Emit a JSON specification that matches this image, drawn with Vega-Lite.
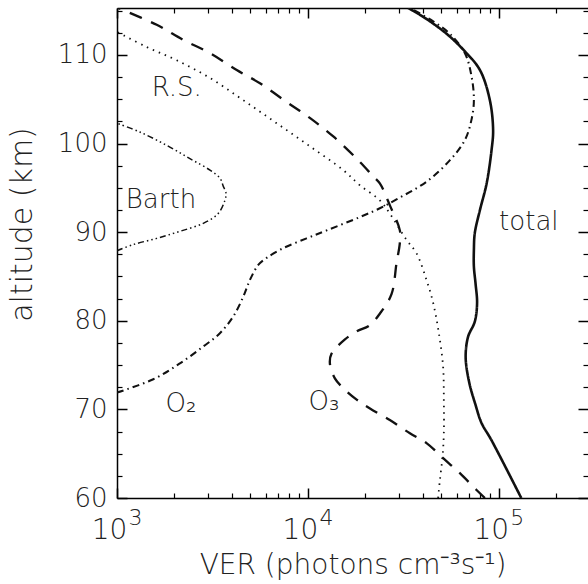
{
  "$schema": "https://vega.github.io/schema/vega-lite/v6.json",
  "autosize": {"type": "none"},
  "padding": {"left": 117, "top": 8, "right": 0, "bottom": 86},
  "width": 471,
  "height": 490,
  "config": {
    "view": {"stroke": null},
    "font": "DejaVu Sans",
    "axis": {"grid": false, "labelColor": "#222", "titleColor": "#222", "labelFontWeight": 200, "titleFontWeight": 200, "domainColor": "#000", "tickColor": "#000", "labelFlush": false, "labelOverlap": false, "labelBound": false}
  },
  "datasets": {
    "curves": [
      {"s": "total", "alt": 60.0, "v": 131000},
      {"s": "total", "alt": 66.5, "v": 91600},
      {"s": "total", "alt": 68.5, "v": 81000},
      {"s": "total", "alt": 70.5, "v": 75500},
      {"s": "total", "alt": 73.0, "v": 70000},
      {"s": "total", "alt": 75.9, "v": 67000},
      {"s": "total", "alt": 78.2, "v": 69000},
      {"s": "total", "alt": 79.9, "v": 74800},
      {"s": "total", "alt": 82.0, "v": 76900},
      {"s": "total", "alt": 84.2, "v": 75500},
      {"s": "total", "alt": 86.1, "v": 74000},
      {"s": "total", "alt": 88.0, "v": 74000},
      {"s": "total", "alt": 89.9, "v": 74800},
      {"s": "total", "alt": 92.5, "v": 79600},
      {"s": "total", "alt": 95.5, "v": 86300},
      {"s": "total", "alt": 99.3, "v": 91600},
      {"s": "total", "alt": 101.5, "v": 93300},
      {"s": "total", "alt": 104.9, "v": 89700},
      {"s": "total", "alt": 108.3, "v": 79600},
      {"s": "total", "alt": 110.4, "v": 66400},
      {"s": "total", "alt": 112.4, "v": 53200},
      {"s": "total", "alt": 114.3, "v": 40200},
      {"s": "total", "alt": 115.3, "v": 33500},

      {"s": "O3", "alt": 60.0, "v": 84500},
      {"s": "O3", "alt": 60.9, "v": 76400},
      {"s": "O3", "alt": 62.8, "v": 62500},
      {"s": "O3", "alt": 64.5, "v": 51050},
      {"s": "O3", "alt": 66.2, "v": 41800},
      {"s": "O3", "alt": 67.3, "v": 34200},
      {"s": "O3", "alt": 68.8, "v": 26850},
      {"s": "O3", "alt": 70.1, "v": 21130},
      {"s": "O3", "alt": 71.1, "v": 18000},
      {"s": "O3", "alt": 72.4, "v": 15310},
      {"s": "O3", "alt": 73.5, "v": 13840},
      {"s": "O3", "alt": 75.2, "v": 13030},
      {"s": "O3", "alt": 76.3, "v": 13300},
      {"s": "O3", "alt": 77.9, "v": 15630},
      {"s": "O3", "alt": 78.8, "v": 18000},
      {"s": "O3", "alt": 79.5, "v": 21100},
      {"s": "O3", "alt": 80.8, "v": 23800},
      {"s": "O3", "alt": 83.0, "v": 27400},
      {"s": "O3", "alt": 86.5, "v": 29100},
      {"s": "O3", "alt": 88.8, "v": 30300},
      {"s": "O3", "alt": 90.2, "v": 30300},
      {"s": "O3", "alt": 93.0, "v": 26900},
      {"s": "O3", "alt": 95.5, "v": 23800},
      {"s": "O3", "alt": 96.3, "v": 21980},
      {"s": "O3", "alt": 98.3, "v": 17990},
      {"s": "O3", "alt": 100.8, "v": 13580},
      {"s": "O3", "alt": 102.9, "v": 10230},
      {"s": "O3", "alt": 104.7, "v": 7727},
      {"s": "O3", "alt": 106.8, "v": 5610},
      {"s": "O3", "alt": 108.3, "v": 4236},
      {"s": "O3", "alt": 110.2, "v": 3069},
      {"s": "O3", "alt": 111.7, "v": 2223},
      {"s": "O3", "alt": 113.4, "v": 1614},
      {"s": "O3", "alt": 115.3, "v": 1016},

      {"s": "O2", "alt": 71.9, "v": 1000},
      {"s": "O2", "alt": 73.4, "v": 1549},
      {"s": "O2", "alt": 75.2, "v": 2138},
      {"s": "O2", "alt": 77.1, "v": 2831},
      {"s": "O2", "alt": 78.6, "v": 3459},
      {"s": "O2", "alt": 80.5, "v": 4064},
      {"s": "O2", "alt": 82.7, "v": 4581},
      {"s": "O2", "alt": 84.6, "v": 4966},
      {"s": "O2", "alt": 86.3, "v": 5495},
      {"s": "O2", "alt": 87.1, "v": 6081},
      {"s": "O2", "alt": 88.2, "v": 7430},
      {"s": "O2", "alt": 89.3, "v": 9840},
      {"s": "O2", "alt": 90.2, "v": 12530},
      {"s": "O2", "alt": 91.7, "v": 18700},
      {"s": "O2", "alt": 92.7, "v": 23800},
      {"s": "O2", "alt": 93.7, "v": 29100},
      {"s": "O2", "alt": 95.7, "v": 41800},
      {"s": "O2", "alt": 98.1, "v": 55300},
      {"s": "O2", "alt": 100.4, "v": 66400},
      {"s": "O2", "alt": 102.7, "v": 71900},
      {"s": "O2", "alt": 104.9, "v": 74000},
      {"s": "O2", "alt": 107.6, "v": 71900},
      {"s": "O2", "alt": 110.2, "v": 66400},
      {"s": "O2", "alt": 112.4, "v": 55300},
      {"s": "O2", "alt": 113.8, "v": 45300},
      {"s": "O2", "alt": 115.1, "v": 35600},

      {"s": "RS", "alt": 60.0, "v": 48080},
      {"s": "RS", "alt": 62.0, "v": 49100},
      {"s": "RS", "alt": 64.7, "v": 50700},
      {"s": "RS", "alt": 67.3, "v": 51500},
      {"s": "RS", "alt": 71.1, "v": 51500},
      {"s": "RS", "alt": 74.8, "v": 51050},
      {"s": "RS", "alt": 78.6, "v": 48500},
      {"s": "RS", "alt": 82.0, "v": 45300},
      {"s": "RS", "alt": 84.6, "v": 41800},
      {"s": "RS", "alt": 87.6, "v": 37070},
      {"s": "RS", "alt": 89.1, "v": 32900},
      {"s": "RS", "alt": 92.1, "v": 26850},
      {"s": "RS", "alt": 93.6, "v": 23800},
      {"s": "RS", "alt": 95.3, "v": 18700},
      {"s": "RS", "alt": 97.0, "v": 15310},
      {"s": "RS", "alt": 99.7, "v": 10230},
      {"s": "RS", "alt": 102.3, "v": 6855},
      {"s": "RS", "alt": 104.9, "v": 4581},
      {"s": "RS", "alt": 107.4, "v": 3069},
      {"s": "RS", "alt": 109.4, "v": 2056},
      {"s": "RS", "alt": 110.9, "v": 1429},
      {"s": "RS", "alt": 112.6, "v": 1000},

      {"s": "Barth", "alt": 87.9, "v": 1000},
      {"s": "Barth", "alt": 88.6, "v": 1216},
      {"s": "Barth", "alt": 89.3, "v": 1614},
      {"s": "Barth", "alt": 90.1, "v": 2138},
      {"s": "Barth", "alt": 91.0, "v": 2831},
      {"s": "Barth", "alt": 92.1, "v": 3388},
      {"s": "Barth", "alt": 93.6, "v": 3673},
      {"s": "Barth", "alt": 94.4, "v": 3724},
      {"s": "Barth", "alt": 95.2, "v": 3600},
      {"s": "Barth", "alt": 96.1, "v": 3459},
      {"s": "Barth", "alt": 97.0, "v": 3069},
      {"s": "Barth", "alt": 98.3, "v": 2410},
      {"s": "Barth", "alt": 99.8, "v": 1820},
      {"s": "Barth", "alt": 101.3, "v": 1318},
      {"s": "Barth", "alt": 102.3, "v": 1000}
    ],
    "notes": [
      {"label": "R.S.", "v": 2056, "alt": 106.3},
      {"label": "Barth", "v": 1700, "alt": 93.6},
      {"label": "O₂", "v": 2164, "alt": 70.6},
      {"label": "O₃", "v": 12130, "alt": 70.8},
      {"label": "total", "v": 143500, "alt": 91.1}
    ]
  },
  "resolve": {"axis": {"x": "independent", "y": "independent"}},
  "layer": [
    {
      "data": {"name": "curves"},
      "mark": {"type": "line", "color": "#111", "interpolate": "catmull-rom", "clip": true},
      "encoding": {
        "x": {"field": "v", "type": "quantitative",
          "scale": {"type": "log", "domain": [1000, 293000], "nice": false},
          "axis": {"orient": "bottom", "values": [1000, 10000, 100000], "labelExpr": "'10'", "ticks": false, "domain": true, "domainWidth": 1.5,
            "labelFontSize": 28, "labelBaseline": "alphabetic", "labelPadding": 40, "labelOffset": -8,
            "title": "VER (photons cm⁻³s⁻¹)", "titleFontSize": 28, "titleBaseline": "middle", "titleY": 67, "titlePadding": 0}},
        "y": {"field": "alt", "type": "quantitative",
          "scale": {"domain": [60, 115.3], "nice": false, "zero": false},
          "axis": {"orient": "left", "values": [60, 70, 80, 90, 100, 110], "ticks": false, "domain": true, "domainWidth": 1.5,
            "labelFontSize": 26, "labelBaseline": "middle", "labelAlign": "right", "labelPadding": 10,
            "title": "altitude (km)", "titleFontSize": 30, "titleBaseline": "middle", "titleAlign": "center", "titleAngle": -90, "titleX": -95, "titleY": 216}},
        "order": {"field": "alt", "type": "quantitative"},
        "detail": {"field": "s"},
        "strokeDash": {"field": "s", "type": "nominal",
          "scale": {"domain": ["total", "O3", "O2", "RS", "Barth"], "range": [[1, 0], [13, 10], [7, 4, 1.5, 4], [1.5, 5], [6, 3, 1.5, 3, 1.5, 3, 1.5, 3]]}, "legend": null},
        "strokeWidth": {"field": "s", "type": "nominal",
          "scale": {"domain": ["total", "O3", "O2", "RS", "Barth"], "range": [2.6, 1.5, 1.2, 1.3, 1.2]}, "legend": null}
      }
    },
    {
      "data": {"name": "notes"},
      "mark": {"type": "text", "fontSize": 26, "fontWeight": 200, "color": "#222", "baseline": "middle", "align": "center"},
      "encoding": {
        "x": {"field": "v", "type": "quantitative",
          "axis": {"orient": "bottom", "values": [1000, 10000, 100000], "labelExpr": "'' + round(log(datum.value) / LN10)", "ticks": false, "domain": false,
            "labelFontSize": 22, "labelBaseline": "alphabetic", "labelPadding": 26, "labelOffset": 18, "title": null}},
        "y": {"field": "alt", "type": "quantitative",
          "axis": {"orient": "left", "values": [60, 70, 80, 90, 100, 110], "ticks": true, "tickSize": -10, "tickWidth": 1.5, "labels": false, "domain": false, "title": null}},
        "text": {"field": "label"}
      }
    },
    {
      "data": {"name": "notes"},
      "transform": [{"filter": "false"}],
      "mark": {"type": "point", "opacity": 0},
      "encoding": {
        "x": {"field": "v", "type": "quantitative",
          "axis": {"orient": "bottom", "values": [1000, 10000, 100000], "ticks": true, "tickSize": -10, "tickWidth": 1.5, "labels": false, "domain": false, "title": null}},
        "y": {"field": "alt", "type": "quantitative",
          "axis": {"orient": "left", "values": [62.5, 65, 67.5, 72.5, 75, 77.5, 82.5, 85, 87.5, 92.5, 95, 97.5, 102.5, 105, 107.5, 112.5, 115], "ticks": true, "tickSize": -5, "tickWidth": 1.2, "labels": false, "domain": false, "title": null}}
      }
    },
    {
      "data": {"name": "notes"},
      "transform": [{"filter": "false"}],
      "mark": {"type": "point", "opacity": 0},
      "encoding": {
        "x": {"field": "v", "type": "quantitative",
          "axis": {"orient": "bottom", "values": [2000, 3000, 4000, 5000, 6000, 7000, 8000, 9000, 20000, 30000, 40000, 50000, 60000, 70000, 80000, 90000, 200000], "ticks": true, "tickSize": -5, "tickWidth": 1.2, "labels": false, "domain": false, "title": null}},
        "y": {"field": "alt", "type": "quantitative",
          "axis": {"orient": "right", "values": [60, 70, 80, 90, 100, 110], "ticks": true, "tickSize": -10, "tickWidth": 1.5, "labels": false, "domain": false, "title": null}}
      }
    },
    {
      "data": {"name": "notes"},
      "transform": [{"filter": "false"}],
      "mark": {"type": "point", "opacity": 0},
      "encoding": {
        "x": {"field": "v", "type": "quantitative",
          "axis": {"orient": "top", "values": [1000, 10000, 100000], "ticks": true, "tickSize": -10, "tickWidth": 1.5, "labels": false, "domain": true, "domainWidth": 1.5, "title": null}},
        "y": {"field": "alt", "type": "quantitative",
          "axis": {"orient": "right", "values": [62.5, 65, 67.5, 72.5, 75, 77.5, 82.5, 85, 87.5, 92.5, 95, 97.5, 102.5, 105, 107.5, 112.5, 115], "ticks": true, "tickSize": -5, "tickWidth": 1.2, "labels": false, "domain": false, "title": null}}
      }
    },
    {
      "data": {"name": "notes"},
      "transform": [{"filter": "false"}],
      "mark": {"type": "point", "opacity": 0},
      "encoding": {
        "x": {"field": "v", "type": "quantitative",
          "axis": {"orient": "top", "values": [2000, 3000, 4000, 5000, 6000, 7000, 8000, 9000, 20000, 30000, 40000, 50000, 60000, 70000, 80000, 90000, 200000], "ticks": true, "tickSize": -5, "tickWidth": 1.2, "labels": false, "domain": false, "title": null}}
      }
    }
  ]
}
